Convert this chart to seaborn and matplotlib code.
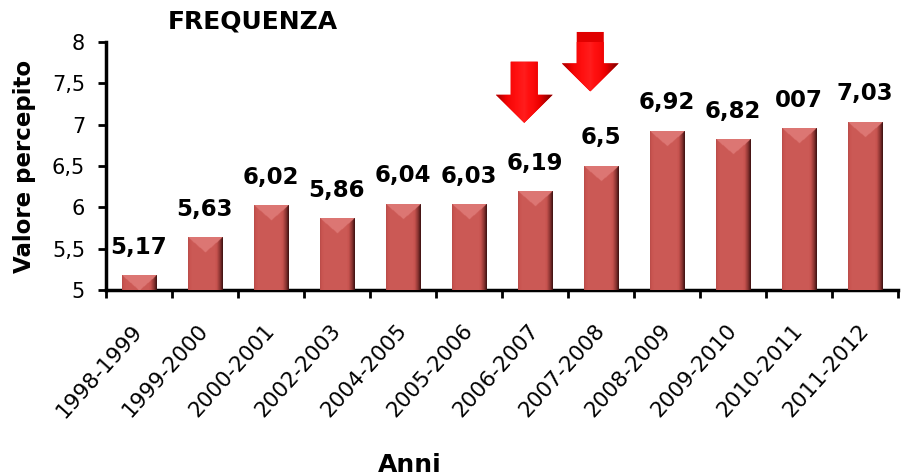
import numpy as np
import pandas as pd
import seaborn as sns
import matplotlib.pyplot as plt
from matplotlib.patches import FancyArrow
from matplotlib.colors import LinearSegmentedColormap

sns.set_theme(style='white', rc={'text.color': 'black', 'axes.labelcolor': 'black',
                                 'xtick.color': 'black', 'ytick.color': 'black'})
plt.rcParams['font.family'] = ['DejaVu Sans']

# data
anni = ['1998-1999', '1999-2000', '2000-2001', '2002-2003', '2004-2005', '2005-2006',
        '2006-2007', '2007-2008', '2008-2009', '2009-2010', '2010-2011', '2011-2012']
valori = [5.17, 5.63, 6.02, 5.86, 6.04, 6.03, 6.19, 6.50, 6.92, 6.82, 6.95, 7.03]
etichette = ['5,17', '5,63', '6,02', '5,86', '6,04', '6,03', '6,19', '6,5', '6,92', '6,82', '007', '7,03']
y_ticks = [5, 5.5, 6, 6.5, 7, 7.5, 8]
y_ticklabels = ['5', '5,5', '6', '6,5', '7', '7,5', '8']

# red arrows above 2006-2007 and 2007-2008: (x centre, top, bottom)
frecce = [(5.84, 7.76, 7.02), (6.84, 8.12, 7.40)]

df = pd.DataFrame({'anno': anni, 'valore': valori})

fig = plt.figure(figsize=(9.05, 4.76), dpi=100)
ax = fig.add_axes([0.117, 0.391, 0.875, 0.521])

sns.barplot(data=df, x='anno', y='valore', color='#C0504D', width=0.52, ax=ax,
            saturation=1, edgecolor='none')
ax.set_xlim(-0.5, len(anni) - 0.5)
ax.set_ylim(5, 8)

# bevelled look: paint a shaded image inside every bar
bar_cmap = LinearSegmentedColormap.from_list(
    'bar', ['#3a1010', '#8a3432', '#c85450', '#d0605c', '#e88a88'])


def shade(patch, bevel, zorder=3):
    x0 = patch.get_x()
    w = patch.get_width()
    y_hi = patch.get_y() + patch.get_height()
    y_lo = max(patch.get_y(), ax.get_ylim()[0])
    h = y_hi - y_lo
    ny, nx = max(int(h * 150), 12), 60
    u = np.linspace(0, 1, nx)[None, :]
    d = np.linspace(0, h, ny)[:, None]  # distance from the top
    # horizontal shading: slightly dark left edge, dark right edge
    base = 0.62 - 0.18 * np.clip(1 - u / 0.12, 0, 1) - 0.6 * np.clip((u - 0.75) / 0.25, 0, 1) ** 1.3
    base = np.broadcast_to(base, (ny, nx)).copy()
    # lighter V-shaped top face
    top = d < bevel * (1 - np.abs(2 * u - 1))
    base[top] = 0.88
    ax.imshow(np.clip(base, 0, 1), cmap=bar_cmap, vmin=0, vmax=1, aspect='auto',
              extent=(x0, x0 + w, y_lo, y_hi), origin='upper',
              interpolation='bilinear', zorder=zorder)


for p in list(ax.patches):
    shade(p, 0.18)

ax.bar_label(ax.containers[0], labels=etichette, padding=12,
             fontsize=16.5, fontweight='bold', color='black')

arrow_cmap = LinearSegmentedColormap.from_list(
    'arrow', ['#600000', '#b00000', '#ee0000', '#ff1010', '#ff5050'])
for xc, top, bottom in frecce:
    arr = FancyArrow(xc, top, 0, bottom - top, width=0.41, head_width=0.86,
                     head_length=0.34, length_includes_head=True,
                     color='#e00000', lw=0, clip_on=False, zorder=4)
    ax.add_patch(arr)
    im = ax.imshow(np.array([[0.3, 0.6, 0.75, 0.8, 0.7, 0.45, 0.15]]), cmap=arrow_cmap,
                   vmin=0, vmax=1, aspect='auto', interpolation='bilinear',
                   extent=(xc - 0.43, xc + 0.43, bottom, top), zorder=5)
    im.set_clip_path(arr)

ax.set_xlim(-0.5, len(anni) - 0.5)
ax.set_ylim(5, 8)
ax.set_yticks(y_ticks)
ax.set_yticklabels(y_ticklabels, fontsize=15)
ax.set_xticks(np.arange(len(anni)))
ax.set_xticklabels(anni, rotation=48, ha='right', va='center',
                   rotation_mode='anchor', fontsize=15.5)
ax.set_xticks(np.arange(-0.5, len(anni)), minor=True)
ax.tick_params(axis='x', which='major', length=0, pad=27, bottom=True)
ax.tick_params(axis='x', which='minor', length=6, width=2, direction='out',
               color='black', bottom=True)
ax.tick_params(axis='y', length=6, width=2, direction='out', color='black', pad=9, left=True)

for side in ['top', 'right']:
    ax.spines[side].set_visible(False)
for side in ['left', 'bottom']:
    ax.spines[side].set_color('black')
    ax.spines[side].set_linewidth(2.5)

ax.set_xlabel('')
ax.set_ylabel('Valore percepito', fontsize=16.5, fontweight='bold')
ax.yaxis.set_label_coords(-0.088, 0.496)
fig.text(253 / 905, 1 - 22 / 476, 'FREQUENZA', fontsize=18, fontweight='bold',
         ha='center', va='center')
fig.text(410 / 905, 1 - 453 / 476, 'Anni', fontsize=18, fontweight='bold',
         ha='center', va='top', family=['Liberation Sans Narrow', 'DejaVu Sans'])

fig.savefig('out.png', dpi=100)
